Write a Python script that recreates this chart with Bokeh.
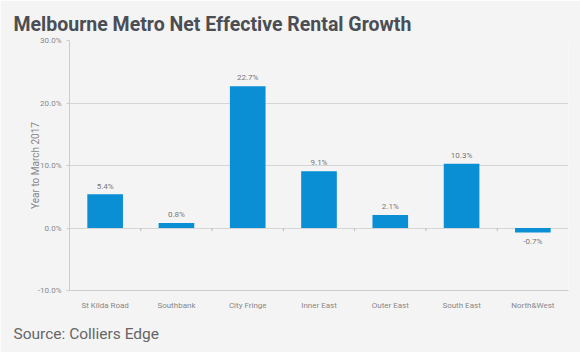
from bokeh.plotting import figure
from bokeh.models import (FactorRange, Range1d, ColumnDataSource, Title, FixedTicker,
                          CustomJSTickFormatter)
from bokeh.core.properties import value
from bokeh.embed import file_html
from bokeh.resources import INLINE

categories = ["St Kilda Road", "Southbank", "City Fringe", "Inner East",
              "Outer East", "South East", "North&West"]
values = [5.4, 0.8, 22.7, 9.1, 2.1, 10.3, -0.7]
y_ticks = [-10, 0, 10, 20, 30]
title_text = "Melbourne Metro Net Effective Rental Growth"
source_text = "Source: Colliers Edge"
y_label = "Year to March 2017"

labels = [f"{v:.1f}%" for v in values]
label_y = [v + 0.6 if v >= 0 else v - 0.8 for v in values]
src = ColumnDataSource(dict(cat=categories, val=values, lab=labels, ly=label_y,
                            base=[0] * len(values),
                            anchor=["bottom" if v >= 0 else "top" for v in values]))

bg = "#f4f4f5"
p = figure(width=580, height=352, x_range=FactorRange(*categories),
           y_range=Range1d(-10, 30), output_backend="svg", toolbar_location=None,
           min_border_left=69, min_border_right=12, min_border_top=40, min_border_bottom=62,
           background_fill_color=bg, border_fill_color=bg, outline_line_color=None)
p.x_range.range_padding = 0

p.vbar(x="cat", top="val", bottom="base", width=0.5, source=src,
       fill_color="#0a8ed4", line_color=None)

p.text(x="cat", y="ly", text="lab", source=src, text_align="center",
       text_baseline="anchor", text_font_size="8px", text_color="#777777",
       text_font=value("Roboto"))

# small ticks on the zero line between categories
bounds = list(range(1, len(categories)))
p.segment(x0=bounds, x1=bounds, y0=[0] * len(bounds), y1=[-0.5] * len(bounds),
          line_color="#bbbbbb", line_width=1)

p.title = Title(text=title_text, text_font="Roboto",
                text_font_size="19.5px", text_color="#4b4e53", text_font_style="bold",
                offset=-56, standoff=10)
p.add_layout(Title(text=source_text, text_font="Roboto", text_font_size="15.5px",
                   text_color="#666666", text_font_style="normal", offset=-56,
                   standoff=20), "below")

p.yaxis.ticker = FixedTicker(ticks=y_ticks)
p.yaxis.formatter = CustomJSTickFormatter(code="return tick.toFixed(1) + '%';")
p.yaxis.major_label_text_font = "Roboto"
p.yaxis.major_label_text_font_size = "8px"
p.yaxis.major_label_text_color = "#888888"
p.yaxis.axis_line_color = "#cccccc"
p.yaxis.major_tick_line_color = "#cccccc"
p.yaxis.major_tick_out = 3
p.yaxis.major_tick_in = 0
p.yaxis.minor_tick_line_color = None
p.yaxis.axis_label = y_label
p.yaxis.axis_label_text_font = "Roboto"
p.yaxis.axis_label_text_font_size = "10px"
p.yaxis.axis_label_text_font_style = "normal"
p.yaxis.axis_label_text_color = "#888888"
p.yaxis.axis_label_standoff = -6

p.xaxis.major_label_text_font = "Roboto"
p.xaxis.major_label_text_font_size = "8px"
p.xaxis.major_label_text_color = "#888888"
p.xaxis.axis_line_color = "#cccccc"
p.xaxis.major_tick_line_color = None
p.xaxis.minor_tick_line_color = None
p.xaxis.major_label_standoff = 4

p.xgrid.grid_line_color = None
p.ygrid.ticker = FixedTicker(ticks=y_ticks)
p.ygrid.grid_line_color = "#d6d6d6"

open("out.html", "w").write(file_html(p, INLINE))
